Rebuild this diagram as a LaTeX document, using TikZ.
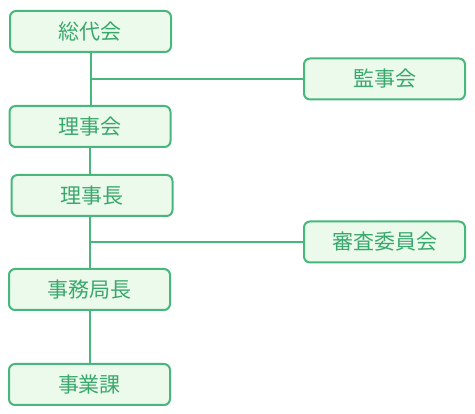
\documentclass[tikz,border=0pt]{standalone}
\usepackage{fontspec}
\setmainfont{Noto Sans CJK JP}
\usepackage{tikz}
\definecolor{linegreen}{RGB}{72,183,124}
\definecolor{fillgreen}{RGB}{236,250,236}
\definecolor{textgreen}{RGB}{58,168,108}
\tikzset{
  orgbox/.style={draw=linegreen, fill=fillgreen, line width=2pt, rounded corners=6pt,
    minimum width=161pt, minimum height=41pt, inner sep=0pt, text=textgreen, font=\fontsize{21}{25}\selectfont},
  orgline/.style={linegreen, line width=2pt}
}
\begin{document}
\begin{tikzpicture}[x=1pt, y=-1pt]
\useasboundingbox (0,0) rectangle (475,414);
% boxes
\node[orgbox] (soudai) at (90.5,31.5) {総代会};
\node[orgbox] (kanji) at (384.5,79) {監事会};
\node[orgbox] (rijikai) at (90,126.5) {理事会};
\node[orgbox] (rijicho) at (92,195.5) {理事長};
\node[orgbox] (shinsa) at (384.5,242) {審査委員会};
\node[orgbox] (jimu) at (89.5,289.5) {事務局長};
\node[orgbox] (jigyo) at (89.5,384.5) {事業課};
% trunk positions
\coordinate (t1) at (91,0);
\coordinate (t2) at (90,0);
\coordinate (j1) at (t1 |- kanji.west);
\coordinate (j2) at (t2 |- shinsa.west);
% lines
\draw[orgline] (t1 |- soudai.south) -- (t1 |- rijikai.north);
\draw[orgline] (j1) -- (kanji.west);
\draw[orgline] (t2 |- rijikai.south) -- (t2 |- rijicho.north);
\draw[orgline] (t2 |- rijicho.south) -- (t2 |- jimu.north);
\draw[orgline] (j2) -- (shinsa.west);
\draw[orgline] (t2 |- jimu.south) -- (t2 |- jigyo.north);
\end{tikzpicture}
\end{document}
